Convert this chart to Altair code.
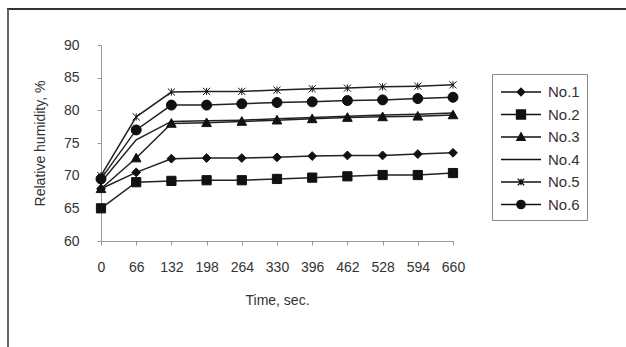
import altair as alt
import pandas as pd

# ---- data ----
times = [0, 66, 132, 198, 264, 330, 396, 462, 528, 594, 660]
series = ["No.1", "No.2", "No.3", "No.4", "No.5", "No.6"]
no1 = [68.0, 70.5, 72.6, 72.7, 72.7, 72.8, 73.0, 73.1, 73.1, 73.3, 73.5]
no2 = [65.0, 69.0, 69.2, 69.3, 69.3, 69.5, 69.7, 69.9, 70.1, 70.1, 70.4]
no3 = [68.0, 72.7, 78.0, 78.1, 78.3, 78.5, 78.7, 78.9, 79.0, 79.1, 79.3]
no4 = [69.0, 75.5, 78.3, 78.4, 78.5, 78.7, 78.9, 79.1, 79.3, 79.4, 79.6]
no5 = [70.0, 79.0, 82.8, 82.9, 82.9, 83.1, 83.3, 83.4, 83.6, 83.7, 83.9]
no6 = [69.5, 77.0, 80.8, 80.8, 81.0, 81.2, 81.3, 81.5, 81.6, 81.8, 82.0]
y_ticks = [60, 65, 70, 75, 80, 85, 90]

rows = []
for name, vals in zip(series, [no1, no2, no3, no4, no5, no6]):
    for t, v in zip(times, vals):
        rows.append({"time": t, "rh": v, "series": name, "entry": name})
df = pd.DataFrame(rows)

# ---- marker shapes (SVG paths in symbol units) ----
def diamond(cx, r):
    return f"M{cx},{-r}L{cx + r},0L{cx},{r}L{cx - r},0Z"

def square(cx, r):
    return f"M{cx - r},{-r}L{cx + r},{-r}L{cx + r},{r}L{cx - r},{r}Z"

def triangle(cx, r):
    return f"M{cx},{-r}L{cx + r},{r * 0.8}L{cx - r},{r * 0.8}Z"

def circle(cx, r):
    return f"M{cx - r},0A{r},{r} 0 1,0 {cx + r},0A{r},{r} 0 1,0 {cx - r},0Z"

def star(cx, r):
    return f"M{cx - r},{-r}L{cx + r},{r}M{cx - r},{r}L{cx + r},{-r}M{cx},{-r}L{cx},{r}"

plot_shapes = [diamond(0, 1.1), square(0, 1.15), triangle(0, 1.2), "M0,0",
               star(0, 0.9), circle(0, 1.25)]
seg = "M-0.9,0L3.1,0"
legend_shapes = [seg + diamond(1.1, 0.38), seg + square(1.1, 0.45),
                 seg + triangle(1.1, 0.42), seg, seg + star(1.1, 0.32),
                 seg + circle(1.1, 0.42)]
black6 = ["#111111"] * 6

FONT = "Liberation Sans"
TXT = "#333333"

x_enc = alt.X(
    "time:Q",
    scale=alt.Scale(domain=[0, 660], nice=False, zero=False),
    axis=alt.Axis(values=times, title="Time, sec.", grid=False, labelFlush=False,
                  tickSize=4, labelPadding=15, titlePadding=19,
                  domainColor="#999999", tickColor="#999999",
                  labelFont=FONT, labelFontSize=14, labelColor=TXT,
                  titleFont=FONT, titleFontSize=14, titleColor=TXT,
                  titleFontWeight="normal"),
)
y_enc = alt.Y(
    "rh:Q",
    scale=alt.Scale(domain=[60, 90], nice=False, zero=False),
    axis=alt.Axis(values=y_ticks, title="Relative humidity, %", grid=False,
                  labelFlush=False, tickSize=4, labelPadding=18, titlePadding=16,
                  domainColor="#999999", tickColor="#999999",
                  labelFont=FONT, labelFontSize=14, labelColor=TXT,
                  titleFont=FONT, titleFontSize=14, titleColor=TXT,
                  titleFontWeight="normal"),
)

base = alt.Chart(df)

lines = base.mark_line(color="#222222", strokeWidth=1.5).encode(
    x=x_enc, y=y_enc, detail="series:N"
)

points = base.mark_point(filled=True, fill="#111111", stroke="#111111",
                         strokeWidth=1, size=64, opacity=1).encode(
    x=x_enc, y=y_enc,
    shape=alt.Shape("series:N", scale=alt.Scale(domain=series, range=plot_shapes),
                    legend=None),
)

legend_layer = base.mark_point(filled=False, stroke="#111111",
                               strokeWidth=1.3, opacity=0).encode(
    x=x_enc, y=y_enc,
    fill=alt.Fill("entry:N", scale=alt.Scale(domain=series, range=black6),
                  legend=None),
    shape=alt.Shape(
        "entry:N",
        scale=alt.Scale(domain=series, range=legend_shapes),
        legend=alt.Legend(
            title=None, orient="none", legendX=391, legendY=29,
            strokeColor="#888888", padding=7, rowPadding=3.5,
            symbolSize=400, symbolOpacity=1, symbolFillColor="#111111",
            symbolStrokeColor="#111111", symbolStrokeWidth=1.3,
            labelOffset=27, labelFont=FONT, labelFontSize=15, labelColor=TXT,
        ),
    ),
)

frame_data = alt.Data(values=[{"a": 1}])
top_rule = alt.Chart(frame_data).mark_rule(color="#333333", strokeWidth=2).encode(
    x=alt.value(-94), x2=alt.value(530), y=alt.value(-36)
)
left_rule = alt.Chart(frame_data).mark_rule(color="#666666", strokeWidth=2).encode(
    x=alt.value(-93), y=alt.value(-36), y2=alt.value(310)
)

chart = alt.layer(lines, points, legend_layer, top_rule, left_rule).resolve_scale(
    shape="independent"
).properties(
    width=352, height=196,
    autosize=alt.AutoSizeParams(type="none"),
    padding={"left": 101, "top": 45, "right": 173, "bottom": 106},
    background="white",
).configure_view(stroke=None)

chart.save("out.html", embed_options={"renderer": "svg", "actions": False})
